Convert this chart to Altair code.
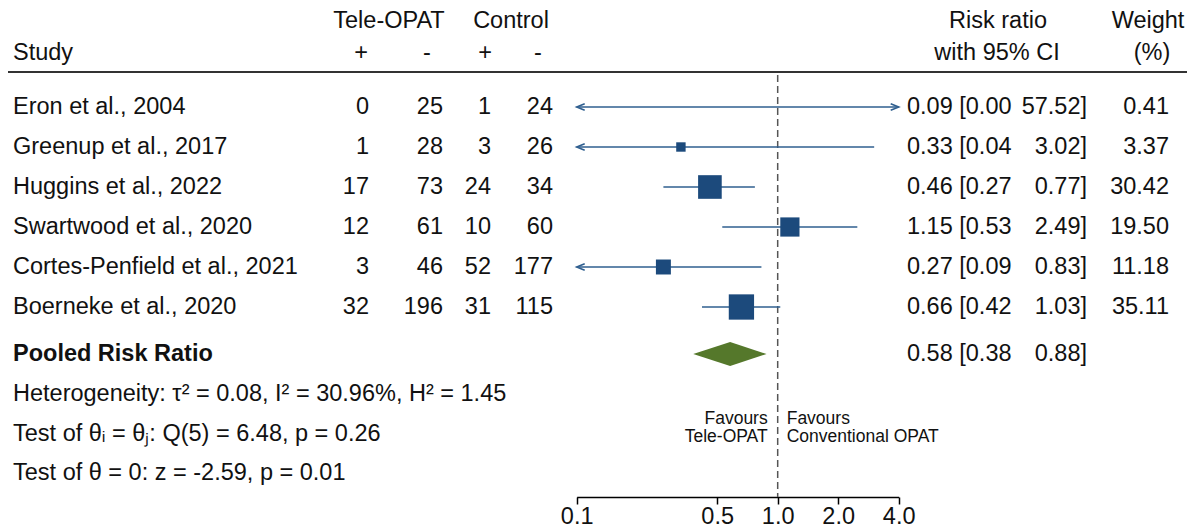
import altair as alt
import pandas as pd

# ---------------- data ----------------
studies = ["Eron et al., 2004", "Greenup et al., 2017", "Huggins et al., 2022",
           "Swartwood et al., 2020", "Cortes-Penfield et al., 2021", "Boerneke et al., 2020"]
tele_pos = [0, 1, 17, 12, 3, 32]
tele_neg = [25, 28, 73, 61, 46, 196]
ctrl_pos = [1, 3, 24, 10, 52, 31]
ctrl_neg = [24, 26, 34, 60, 177, 115]
risk_ratio = [0.09, 0.33, 0.46, 1.15, 0.27, 0.66]
ci_low = [0.00, 0.04, 0.27, 0.53, 0.09, 0.42]
ci_high = [57.52, 3.02, 0.77, 2.49, 0.83, 1.03]
weights = [0.41, 3.37, 30.42, 19.50, 11.18, 35.11]

pooled_label = "Pooled Risk Ratio"
pooled_rr = 0.58
pooled_low = 0.38
pooled_high = 0.88

stats_lines = ["Heterogeneity: \u03c4\u00b2 = 0.08, I\u00b2 = 30.96%, H\u00b2 = 1.45",
               "Test of \u03b8\u1d62 = \u03b8\u2c7c: Q(5) = 6.48, p = 0.26",
               "Test of \u03b8 = 0: z = -2.59, p = 0.01"]
favours_left = ["Favours", "Tele-OPAT"]
favours_right = ["Favours", "Conventional OPAT"]
axis_ticks = [0.1, 0.5, 1.0, 2.0, 4.0]

# ---------------- style / layout ----------------
FONT = "Liberation Sans"
FS = 23.5
BLACK = "#111111"
SQ = "#1c4a7c"
LN = "#2f5f8f"
DIA = "#55782b"
XMIN, XMAX = 0.1, 4.0
W, H = 1179, 524
AXIS_Y = 489

xscale = alt.Scale(type="log", domain=[XMIN, XMAX], range=[568.7, 890.7], nice=False)
xaxis = alt.Axis(values=axis_ticks, format=".1f", title=None, grid=False, offset=AXIS_Y - H,
                 domainColor="black", domainWidth=1.5, tickColor="black", tickWidth=1.5,
                 tickSize=7, labelFontSize=FS, labelFont=FONT, labelColor=BLACK,
                 labelPadding=0, labelFlush=False, labelOverlap=False)
ROW0, STEP = 99, 40
yscale = alt.Scale(domain=[-ROW0 / STEP, (H - ROW0) / STEP], reverse=True, nice=False, zero=False)

HEAD1, HEAD2, RULE_Y, DASH_TOP = -2.15, -1.35, -0.875, -0.8
POOLED_ROW = 6.175
STATS_ROWS = [7.175, 8.175, 9.15]
FAV_ROWS = [7.8, 8.25]
BOTTOM = (AXIS_Y - ROW0) / STEP

def Y(field="row"):
    return alt.Y(f"{field}:Q", scale=yscale, axis=None)

n = len(studies)
study_df = pd.DataFrame({
    "row": list(range(n)),
    "name": studies,
    "tp": [str(v) for v in tele_pos],
    "tn": [str(v) for v in tele_neg],
    "cp": [str(v) for v in ctrl_pos],
    "cn": [str(v) for v in ctrl_neg],
    "rr": risk_ratio,
    "lo": ci_low,
    "hi": ci_high,
    "w": weights,
})
study_df["lo_c"] = study_df["lo"].clip(lower=XMIN)
study_df["hi_c"] = study_df["hi"].clip(upper=XMAX)
study_df["rr_txt"] = [f"{r:.2f} [{l:.2f}" for r, l in zip(risk_ratio, ci_low)]
study_df["hi_txt"] = [f"{h:.2f}]" for h in ci_high]
study_df["w_txt"] = [f"{w:.2f}" for w in weights]

pooled_df = pd.DataFrame({
    "row": [POOLED_ROW], "name": [pooled_label],
    "rr_txt": [f"{pooled_rr:.2f} [{pooled_low:.2f}"], "hi_txt": [f"{pooled_high:.2f}]"],
})

# ---------------- layers ----------------
ci = alt.Chart(study_df).mark_rule(color=LN, strokeWidth=1.6).encode(
    x=alt.X("lo_c:Q", scale=xscale, axis=xaxis), x2="hi_c:Q", y=Y())

LEFT_ARROW = "M 2 -0.8 L 0 0 L 2 0.8"
RIGHT_ARROW = "M -2 -0.8 L 0 0 L -2 0.8"
left_arrows = alt.Chart(study_df[study_df["lo"] < XMIN]).mark_point(
    shape=LEFT_ARROW, size=64, color=LN, strokeWidth=1.6, filled=False, opacity=1).encode(
    x=alt.X("lo_c:Q", scale=xscale, axis=xaxis), y=Y())
right_arrows = alt.Chart(study_df[study_df["hi"] > XMAX]).mark_point(
    shape=RIGHT_ARROW, size=64, color=LN, strokeWidth=1.6, filled=False, opacity=1).encode(
    x=alt.X("hi_c:Q", scale=xscale, axis=xaxis), y=Y())

squares = alt.Chart(study_df[study_df["rr"] >= XMIN]).mark_square(color=SQ, opacity=1).encode(
    x=alt.X("rr:Q", scale=xscale, axis=xaxis), y=Y(),
    size=alt.Size("w:Q", scale=alt.Scale(domain=[0, 35.11], range=[30, 640]), legend=None))

HALF = 0.3
diamond_df = pd.DataFrame({
    "x": [pooled_low, pooled_rr, pooled_high],
    "y": [POOLED_ROW, POOLED_ROW - HALF, POOLED_ROW],
    "y2": [POOLED_ROW, POOLED_ROW + HALF, POOLED_ROW],
})
diamond = alt.Chart(diamond_df).mark_area(color=DIA, orient="vertical", opacity=1).encode(
    x=alt.X("x:Q", scale=xscale, axis=xaxis), y=Y("y"), y2="y2:Q")

null_line = alt.Chart(pd.DataFrame({"v": [1.0]})).mark_rule(
    color="#555555", strokeDash=[7, 4], strokeWidth=1.5).encode(
    x=alt.X("v:Q", scale=xscale, axis=xaxis),
    y=alt.YDatum(DASH_TOP, type="quantitative", scale=yscale, axis=None),
    y2=alt.Y2Datum(BOTTOM))

head_rule = alt.Chart(pd.DataFrame({"v": [RULE_Y]})).mark_rule(
    color="#333333", strokeWidth=2).encode(
    x=alt.value(0), x2=alt.value(W), y=alt.Y("v:Q", scale=yscale, axis=None))


def txt(df, field, x, align="left", bold=False, size=FS):
    return alt.Chart(df).mark_text(
        align=align, baseline="middle", font=FONT, fontSize=size,
        fontWeight="bold" if bold else "normal", color=BLACK).encode(
        x=alt.value(x), y=Y(), text=f"{field}:N")


def label_df(rows, labels):
    return pd.DataFrame({"row": rows, "label": labels})

texts = [
    txt(study_df, "name", 5),
    txt(study_df, "tp", 361, "right"),
    txt(study_df, "tn", 435, "right"),
    txt(study_df, "cp", 483, "right"),
    txt(study_df, "cn", 545, "right"),
    txt(study_df, "rr_txt", 899),
    txt(study_df, "hi_txt", 1079, "right"),
    txt(study_df, "w_txt", 1161, "right"),
    txt(pooled_df, "name", 5, bold=True),
    txt(pooled_df, "rr_txt", 899),
    txt(pooled_df, "hi_txt", 1079, "right"),
    txt(label_df(STATS_ROWS, stats_lines), "label", 5),
    txt(label_df([HEAD2], ["Study"]), "label", 5),
    txt(label_df([HEAD1], ["Tele-OPAT"]), "label", 381, "center"),
    txt(label_df([HEAD1], ["Control"]), "label", 503, "center"),
    txt(label_df([HEAD2], ["+"]), "label", 353, "center"),
    txt(label_df([HEAD2], ["-"]), "label", 419, "center"),
    txt(label_df([HEAD2], ["+"]), "label", 477, "center"),
    txt(label_df([HEAD2], ["-"]), "label", 530, "center"),
    txt(label_df([HEAD1], ["Risk ratio"]), "label", 990, "center"),
    txt(label_df([HEAD2], ["with 95% CI"]), "label", 989, "center"),
    txt(label_df([HEAD1], ["Weight"]), "label", 1140, "center"),
    txt(label_df([HEAD2], ["(%)"]), "label", 1144, "center"),
]

FAV_FS = 17.5
fav_l = alt.Chart(label_df(FAV_ROWS, favours_left).assign(v=1.0)).mark_text(
    align="right", baseline="middle", font=FONT, fontSize=FAV_FS, color=BLACK, dx=-10).encode(
    x=alt.X("v:Q", scale=xscale, axis=xaxis), y=Y(), text="label:N")
fav_r = alt.Chart(label_df(FAV_ROWS, favours_right).assign(v=1.0)).mark_text(
    align="left", baseline="middle", font=FONT, fontSize=FAV_FS, color=BLACK, dx=9).encode(
    x=alt.X("v:Q", scale=xscale, axis=xaxis), y=Y(), text="label:N")

chart = alt.layer(
    head_rule, null_line, ci, left_arrows, right_arrows, squares, diamond,
    fav_l, fav_r, *texts
).properties(
    width=W, height=H, padding=0, background="white",
    autosize=alt.AutoSizeParams(type="none"),
).configure_view(stroke=None)

chart.save("out.html", embed_options={"renderer": "svg", "actions": False})
